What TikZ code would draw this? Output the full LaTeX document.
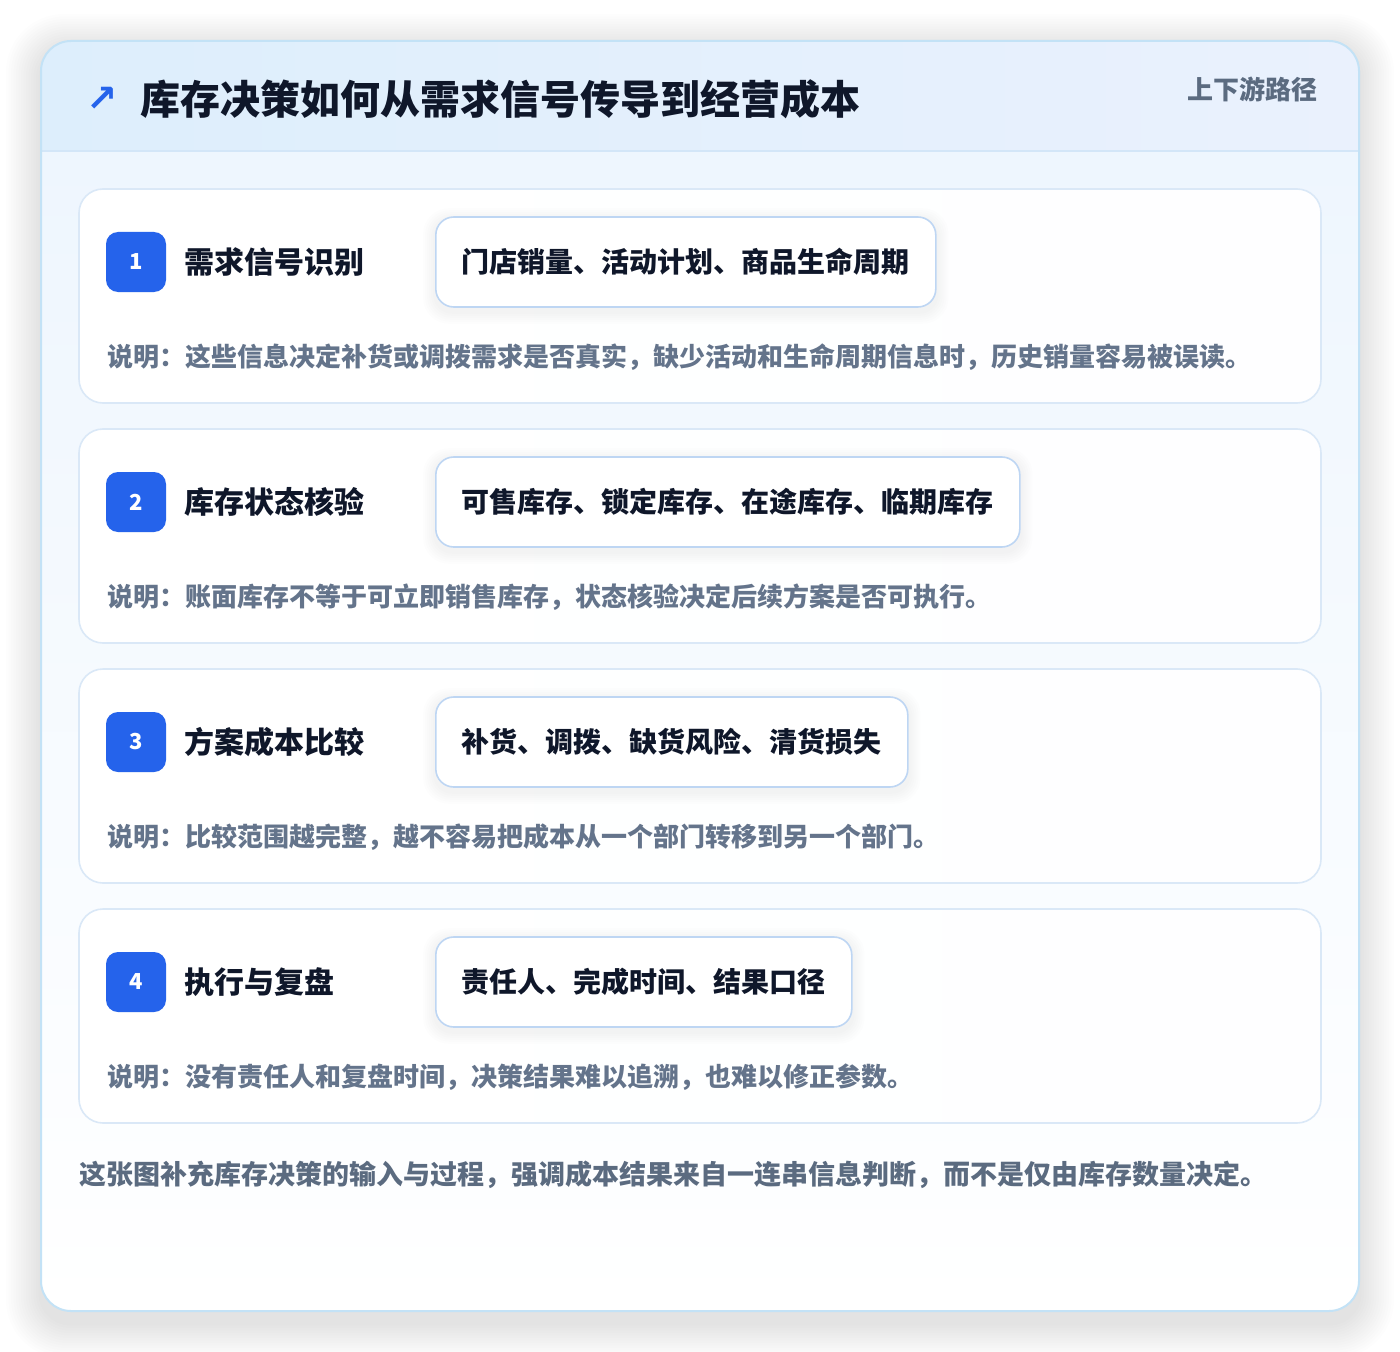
\documentclass[tikz,border=0pt]{standalone}
\usepackage{fontspec}
\setmainfont{Noto Sans CJK SC}
\newfontfamily\symfont{DejaVu Sans}
\usepackage{tikz}
\usetikzlibrary{positioning}

\definecolor{cardline}{HTML}{C3E2F6}
\definecolor{headleft}{HTML}{DDEEFC}
\definecolor{headright}{HTML}{EAF1FD}
\definecolor{headline}{HTML}{D3E6F8}
\definecolor{bodytop}{HTML}{EEF6FE}
\definecolor{stepline}{HTML}{DAE8F7}
\definecolor{pillline}{HTML}{BED6F3}
\definecolor{badgeblue}{HTML}{2563EB}
\definecolor{inktitle}{HTML}{0F172A}
\definecolor{inkgray}{HTML}{64748B}
\definecolor{inkside}{HTML}{5B6B80}

\begin{document}
\begin{tikzpicture}[x=0.75pt,y=-0.75pt,
    stepcard/.style={draw=stepline, line width=1.2pt, rounded corners=18pt,
      left color=white, right color=white!92!bodytop},
    badge/.style={fill=badgeblue, rounded corners=9pt, minimum size=45pt,
      inner sep=0pt, text=white, font=\bfseries\fontsize{16.5pt}{18pt}\selectfont},
    steptitle/.style={anchor=west, inner sep=0pt, text=inktitle,
      font=\bfseries\fontsize{22.5pt}{26pt}\selectfont},
    pillbox/.style={anchor=west, draw=pillline, line width=1.2pt, fill=white,
      rounded corners=13.5pt, minimum height=67.5pt, inner xsep=19.5pt,
      text=inktitle, font=\bfseries\fontsize{21pt}{24pt}\selectfont},
    desctext/.style={anchor=west, inner sep=0pt, text=inkgray,
      font=\bfseries\fontsize{19.5pt}{23pt}\selectfont}]
  \useasboundingbox[fill=white] (0,0) rectangle (1400,1352);
  % soft shadow of the outer card
  \foreach \s in {1,...,14}
    \fill[black, opacity=0.009, rounded corners={22.5pt+\s*1.5pt}]
      ({41-\s*2.5},{49-\s*2.5}) rectangle ({1359+\s*2.5},{1323+\s*2.5});
  % outer card
  \begin{scope}
    \clip[rounded corners=22.5pt] (41,41) rectangle (1359,1311);
    \fill[white] (41,41) rectangle (1359,1311);
    \shade[top color=bodytop, bottom color=white] (41,151) rectangle (1359,1311);
    \shade[left color=headleft, right color=headright] (41,41) rectangle (1359,151);
    \draw[headline, line width=1.2pt] (41,151) -- (1359,151);
  \end{scope}
  \draw[cardline, line width=1.5pt, rounded corners=22.5pt] (41,41) rectangle (1359,1311);
  % header
  \node[text=badgeblue, inner sep=0pt, font=\symfont\bfseries\fontsize{28pt}{30pt}\selectfont]
    (icon) at (102,99) {↗};
  \node[anchor=west, inner sep=0pt, text=inktitle,
    font=\bfseries\fontsize{30pt}{34pt}\selectfont] (title) at (140,99)
    {库存决策如何从需求信号传导到经营成本};
  \node[anchor=east, inner sep=0pt, text=inkside,
    font=\bfseries\fontsize{19.5pt}{22pt}\selectfont] (side) at (1318,89) {上下游路径};
  % steps
  \foreach \n/\ttl/\pill/\desc in {
      1/需求信号识别/门店销量、活动计划、商品生命周期/说明：这些信息决定补货或调拨需求是否真实，缺少活动和生命周期信息时，历史销量容易被误读。,
      2/库存状态核验/可售库存、锁定库存、在途库存、临期库存/说明：账面库存不等于可立即销售库存，状态核验决定后续方案是否可执行。,
      3/方案成本比较/补货、调拨、缺货风险、清货损失/说明：比较范围越完整，越不容易把成本从一个部门转移到另一个部门。,
      4/执行与复盘/责任人、完成时间、结果口径/说明：没有责任人和复盘时间，决策结果难以追溯，也难以修正参数。}
  {
    \draw[stepcard] (79,{189+240*(\n-1)}) rectangle (1321,{403+240*(\n-1)});
    \node[badge] (badge\n) at (136,{262+240*(\n-1)}) {\n};
    \node[steptitle, right=13.5pt of badge\n] (name\n) {\ttl};
    \node[pillbox, opacity=0] (ghost\n) at (435,{262+240*(\n-1)}) {\pill};
    \foreach \s in {1,...,6}
      \fill[black, opacity=0.006, rounded corners={13.5pt+\s*1pt}]
        ([xshift=-\s*1.5pt, yshift={-3pt+\s*1.5pt}]ghost\n.north west)
        rectangle ([xshift=\s*1.5pt, yshift={-3pt-\s*1.5pt}]ghost\n.south east);
    \node[pillbox] (pill\n) at (435,{262+240*(\n-1)}) {\pill};
    \node[desctext] (desc\n) at (107,{357+240*(\n-1)}) {\desc};
  }
  % footer
  \node[anchor=west, inner sep=0pt, text=inkside,
    font=\bfseries\fontsize{20.25pt}{24pt}\selectfont] (note) at (79,1175)
    {这张图补充库存决策的输入与过程，强调成本结果来自一连串信息判断，而不是仅由库存数量决定。};
\end{tikzpicture}
\end{document}
